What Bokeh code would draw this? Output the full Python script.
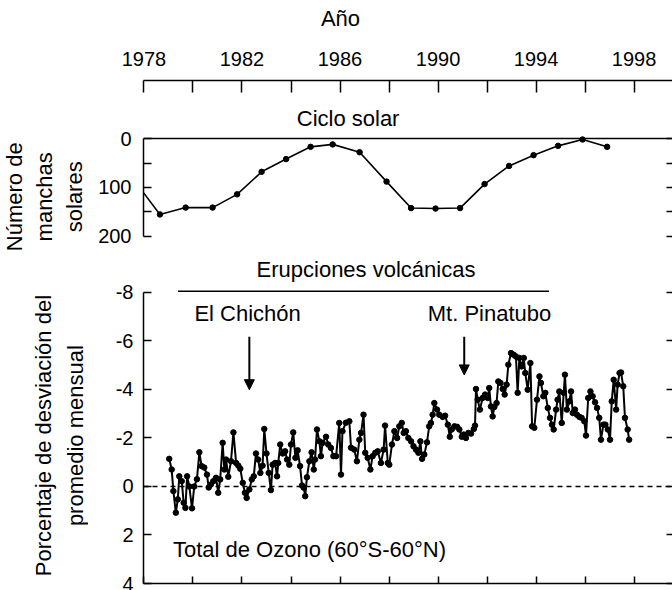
import math
from bokeh.plotting import figure
from bokeh.layouts import column, row
from bokeh.models import Range1d, LinearAxis, FixedTicker, Span, Label, Arrow, NormalHead
from bokeh.embed import file_html
from bokeh.resources import INLINE

FONT = "Liberation Sans"

# ---------------- data ----------------
year_ticks = [1978, 1980, 1982, 1984, 1986, 1988, 1990, 1992, 1994, 1996, 1998]
year_tick_labels = ["1978", "", "1982", "", "1986", "", "1990", "", "1994", "", "1998"]

solar_ticks = [0, 50, 100, 150, 200]
solar_tick_labels = ["0", "", "100", "", "200"]

ozone_ticks = [-8, -6, -4, -2, 0, 2, 4]
ozone_tick_labels = ["-8", "-6", "-4", "-2", "0", "2", "4"]

solar_year = [1977.7, 1978.65, 1979.7, 1980.8, 1981.8, 1982.8, 1983.8, 1984.8, 1985.7,
              1986.8, 1987.9, 1988.9, 1989.9, 1990.9, 1991.9, 1992.9, 1993.9, 1994.9,
              1995.9, 1996.9]
solar_spots = [92, 155, 141, 141, 114, 68, 42, 17, 12, 28, 88, 142, 143, 142, 93, 56,
               34, 15, 2, 17]

ozone_year = [
    1979.03, 1979.13, 1979.20, 1979.30, 1979.38, 1979.44, 1979.54, 1979.62, 1979.69, 1979.76,
    1979.85, 1979.96, 1980.05, 1980.16, 1980.26, 1980.35, 1980.46, 1980.57, 1980.64, 1980.73,
    1980.83, 1980.94, 1981.03, 1981.11, 1981.21, 1981.28, 1981.35, 1981.44, 1981.55, 1981.65,
    1981.76, 1981.85, 1981.93, 1982.03, 1982.12, 1982.19, 1982.30, 1982.40, 1982.48, 1982.57,
    1982.66, 1982.75, 1982.84, 1982.91, 1983.00, 1983.09, 1983.18, 1983.25, 1983.35, 1983.43,
    1983.48, 1983.56, 1983.66, 1983.76, 1983.84, 1983.93, 1984.00, 1984.09, 1984.18, 1984.27,
    1984.37, 1984.45, 1984.52, 1984.58, 1984.65, 1984.75, 1984.84, 1984.93, 1984.98, 1985.06,
    1985.16, 1985.22, 1985.29, 1985.43, 1985.52, 1985.63, 1985.73, 1985.84, 1985.97, 1986.04,
    1986.10, 1986.24, 1986.38, 1986.45, 1986.58, 1986.69, 1986.79, 1986.86, 1986.96, 1987.03,
    1987.13, 1987.24, 1987.33, 1987.44, 1987.54, 1987.67, 1987.78, 1987.84, 1987.95, 1988.01,
    1988.12, 1988.22, 1988.33, 1988.42, 1988.52, 1988.60, 1988.69, 1988.79, 1988.90, 1989.00,
    1989.10, 1989.20, 1989.28, 1989.35, 1989.44, 1989.55, 1989.64, 1989.71, 1989.78, 1989.85,
    1989.96, 1990.05, 1990.19, 1990.29, 1990.40, 1990.48, 1990.56, 1990.67, 1990.78, 1990.87,
    1990.97, 1991.05, 1991.14, 1991.24, 1991.35, 1991.46, 1991.51, 1991.55, 1991.62, 1991.71,
    1991.82, 1991.92, 1992.03, 1992.09, 1992.16, 1992.23, 1992.30, 1992.39, 1992.46, 1992.55,
    1992.64, 1992.72, 1992.80, 1992.87, 1992.98, 1993.09, 1993.18, 1993.25, 1993.32, 1993.41,
    1993.50, 1993.56, 1993.66, 1993.77, 1993.84, 1993.93, 1994.04, 1994.14, 1994.20, 1994.30,
    1994.38, 1994.48, 1994.57, 1994.65, 1994.72, 1994.82, 1994.88, 1994.95, 1995.05, 1995.13,
    1995.18, 1995.26, 1995.36, 1995.43, 1995.50, 1995.59, 1995.67, 1995.77, 1995.86, 1995.97,
    1996.04, 1996.13, 1996.22, 1996.31, 1996.41, 1996.49, 1996.58, 1996.65, 1996.75, 1996.83,
    1996.93, 1997.02, 1997.09, 1997.17, 1997.27, 1997.33, 1997.41, 1997.47, 1997.56, 1997.63,
    1997.74, 1997.80]
ozone_dev = [
    -1.14, -0.70, 0.19, 1.08, 0.53, -0.42, -0.22, 0.67, 0.88, -0.42,
    0.00, 0.90, 0.00, -0.30, -1.41, -0.84, -0.78, -0.49, 0.04, -0.08,
    -0.22, -0.36, 0.26, -0.29, -1.80, -0.70, -1.11, -0.40, -1.04, -2.23,
    -0.97, -0.86, -0.73, -0.15, 0.26, 0.47, 0.12, -0.29, -0.42, -1.36,
    -1.11, -0.56, -0.86, -2.37, -1.36, -0.56, 0.15, -0.90, -0.97, -0.42,
    -0.97, -1.73, -1.36, -1.45, -1.11, -0.90, -1.73, -2.23, -1.18, -1.49,
    -0.84, -0.04, 0.05, 0.40, -0.38, -1.04, -1.41, -0.70, -1.11, -2.35,
    -1.86, -1.25, -1.80, -2.05, -1.73, -1.59, -1.25, -1.25, -2.62, -0.49,
    -2.28, -2.63, -2.69, -1.60, -1.52, -1.04, -1.93, -2.21, -2.96, -1.39,
    -1.18, -0.70, -1.25, -1.39, -1.45, -0.97, -1.52, -2.51, -0.97, -0.90,
    -1.73, -2.28, -2.00, -2.48, -2.62, -2.21, -2.28, -2.00, -1.86, -1.66,
    -1.52, -1.39, -1.86, -1.14, -1.32, -1.82, -2.48, -2.62, -2.96, -3.44,
    -3.17, -2.96, -2.87, -2.92, -2.55, -2.05, -2.35, -2.48, -2.46, -2.35,
    -2.05, -2.14, -2.00, -2.21, -2.18, -2.37, -2.51, -4.02, -3.58, -3.17,
    -3.65, -3.79, -3.65, -4.06, -3.30, -2.89, -3.28, -3.44, -4.33, -4.27,
    -4.02, -3.79, -4.20, -5.02, -5.50, -5.43, -5.36, -3.86, -5.30, -4.95,
    -5.30, -4.68, -3.99, -5.09, -2.48, -2.42, -3.58, -4.54, -4.27, -3.72,
    -3.86, -3.24, -2.83, -2.55, -2.35, -3.17, -3.58, -3.92, -2.62, -3.86,
    -4.61, -3.17, -3.51, -3.92, -3.03, -3.17, -2.96, -2.87, -2.83, -2.69,
    -2.10, -3.65, -3.92, -3.72, -3.47, -3.24, -2.83, -1.93, -2.55, -2.55,
    -2.35, -1.93, -3.51, -4.40, -3.17, -4.20, -4.68, -4.70, -4.13, -2.83,
    -2.35, -1.93]

eruption_names = ["El Chichón", "Mt. Pinatubo"]
eruption_year = [1982.3, 1991.07]
eruption_period = [1979.39, 1994.53]

# ---------------- layout constants ----------------
TOTAL_W = 672
LAB_W = 88
MAIN_W = TOTAL_W - LAB_W
LEFT = 55
X_START, X_END = 1977.98, 1999.57
H0, H1, H2 = 38, 212, 340
TXT = "22px"
TICKTXT = "20px"


def style_axis(ax, ticks, labels, tick_in, show_labels=True, show_line=True, bounds=None):
    ax.ticker = FixedTicker(ticks=ticks, minor_ticks=[])
    ax.major_label_overrides = {t: l for t, l in zip(ticks, labels)}
    ax.major_tick_in = tick_in
    ax.major_tick_out = 0
    ax.minor_tick_in = 0
    ax.minor_tick_out = 0
    ax.major_tick_line_width = 1.5
    ax.major_tick_line_color = "black"
    ax.axis_line_width = 1.5
    ax.axis_line_color = "black" if show_line else None
    ax.major_label_text_font = FONT
    ax.major_label_text_color = "black"
    if show_labels:
        ax.major_label_text_font_size = TICKTXT
    else:
        ax.major_label_text_font_size = "0px"
        ax.major_label_standoff = 0
    if bounds is not None:
        ax.bounds = bounds


def add_label(p, x, y, text, align="center", angle=0.0, line_height=1.2):
    p.add_layout(Label(x=x, y=y, text=text, text_font=FONT, text_font_size=TXT,
                       text_color="black", text_align=align, text_baseline="middle",
                       angle=angle, text_line_height=line_height))


def blank_fig(w, h):
    f = figure(width=w, height=h, x_range=Range1d(0, w), y_range=Range1d(0, h),
               x_axis_location=None, y_axis_location=None,
               output_backend="svg", toolbar_location=None,
               min_border_left=0, min_border_right=0, min_border_top=0,
               min_border_bottom=0)
    f.grid.visible = False
    f.outline_line_color = None
    return f


# ---------------- top strip: axis title "Año" ----------------
p0 = blank_fig(TOTAL_W, H0)
add_label(p0, 340, H0 - 18, "Año")

# ---------------- figure 1: year axis + solar cycle ----------------
p1 = figure(width=MAIN_W, height=H1, x_range=Range1d(X_START, X_END),
            y_range=Range1d(228.6, -118.4), x_axis_location="above",
            output_backend="svg", toolbar_location=None,
            min_border_left=LEFT, min_border_right=0, min_border_top=42,
            min_border_bottom=0)
p1.grid.visible = False
p1.outline_line_color = None

style_axis(p1.xaxis[0], year_ticks, year_tick_labels, 12)
p1.xaxis[0].major_label_standoff = 15
style_axis(p1.yaxis[0], solar_ticks, solar_tick_labels, 8, bounds=(0, 200))
p1.yaxis[0].major_label_standoff = 12
r1 = LinearAxis()
style_axis(r1, solar_ticks, ["" for _ in solar_ticks], 6, show_labels=False,
           show_line=False, bounds=(0, 200))
p1.add_layout(r1, "right")

p1.add_layout(Span(location=0, dimension="width", line_color="black", line_width=1.5))
p1.line(solar_year, solar_spots, line_color="black", line_width=1.6)
p1.scatter(solar_year, solar_spots, size=5.5, color="black")
add_label(p1, 1986.33, -41, "Ciclo solar")

lab1 = blank_fig(LAB_W, H1)
add_label(lab1, 44, H1 - (183 - H0), "Número de\nmanchas\nsolares", angle=math.pi / 2,
          line_height=1.2)

# ---------------- figure 2: ozone ----------------
p2 = figure(width=MAIN_W, height=H2, x_range=p1.x_range,
            y_range=Range1d(4, -9.73), x_axis_location="below",
            output_backend="svg", toolbar_location=None,
            min_border_left=LEFT, min_border_right=0, min_border_top=0,
            min_border_bottom=7)
p2.grid.visible = False
p2.outline_line_color = None

style_axis(p2.xaxis[0], year_ticks, ["" for _ in year_ticks], 7, show_labels=False)
style_axis(p2.yaxis[0], ozone_ticks, ozone_tick_labels, 8, bounds=(-8, 4))
p2.yaxis[0].major_label_standoff = 10
r2 = LinearAxis()
style_axis(r2, ozone_ticks, ["" for _ in ozone_ticks], 6, show_labels=False,
           show_line=False, bounds=(-8, 4))
p2.add_layout(r2, "right")

p2.add_layout(Span(location=0, dimension="width", line_color="black", line_width=1.5,
                   line_dash="5 4"))
p2.segment(x0=[eruption_period[0]], y0=[-8.05], x1=[eruption_period[1]], y1=[-8.05],
           line_color="black", line_width=1.5)
p2.line(ozone_year, ozone_dev, line_color="black", line_width=2)
p2.scatter(ozone_year, ozone_dev, size=5.5, color="black")

arrow_tips = [-3.99, -4.6]
for name, yr, tip in zip(eruption_names, eruption_year, arrow_tips):
    p2.add_layout(Arrow(x_start=yr, y_start=-6.17, x_end=yr, y_end=tip,
                        line_color="black", line_width=2,
                        end=NormalHead(size=10, fill_color="black", line_color="black")))

add_label(p2, 1987.06, -8.95, "Erupciones volcánicas")
add_label(p2, 1982.23, -7.12, eruption_names[0])
add_label(p2, 1992.1, -7.12, eruption_names[1])
add_label(p2, 1979.18, 2.6, "Total de Ozono (60°S-60°N)", align="left")

lab2 = blank_fig(LAB_W, H2)
add_label(lab2, 59, H2 - (439 - H0 - H1), "Porcentaje de desviación del\npromedio mensual",
          angle=math.pi / 2, line_height=1.3)

layout = column(p0, row(lab1, p1, spacing=0), row(lab2, p2, spacing=0), spacing=0)
open("out.html", "w").write(file_html(layout, INLINE))
